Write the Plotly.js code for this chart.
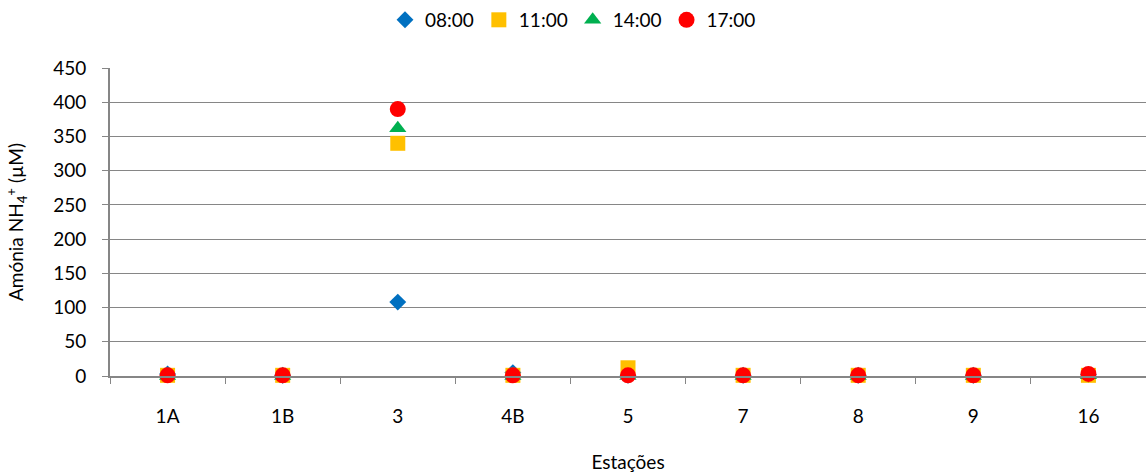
<!DOCTYPE html>
<html>
<head>
<meta charset="utf-8">
<script src="https://cdn.plot.ly/plotly-3.0.1.min.js"></script>
<style>html,body{margin:0;padding:0;background:#fff;}#chart{width:1146px;height:475px;}</style>
</head>
<body>
<div id="chart"></div>
<script>
const stations = ["1A","1B","3","4B","5","7","8","9","16"];
const v0800 = [3, 1, 108, 5, 1, 1, 1, 1, 2];
const v1100 = [1, 1, 340, 1, 12, 1, 1, 1, 1];
const v1400 = [0, 0, 362, 0, 0, 0, 0, 0, 1];
const v1700 = [1, 1, 390, 1, 1, 1, 1, 1, 3];

const seriesNames = ["08:00","11:00","14:00","17:00"];
const seriesData = [v0800, v1100, v1400, v1700];
const colors = ["#0070C0","#FFC000","#00B050","#FF0000"];
const symbols = ["diamond","square","triangle-up","circle"];
const sizes = [13, 15, 15, 16];

const traces = seriesData.map((d,i)=>({
  type:"scatter", mode:"markers", name:seriesNames[i],
  x:stations, y:d, cliponaxis:false,
  marker:{symbol:symbols[i], color:colors[i], size:sizes[i], line:{width:0}}
}));

const font = {family:"Lato, 'Open Sans', sans-serif", size:19, color:"#000"};
const layout = {
  width:1146, height:475,
  margin:{l:110, r:0, t:68, b:99},
  paper_bgcolor:"#fff", plot_bgcolor:"#fff",
  font:font,
  showlegend:true,
  legend:{orientation:"h", x:0.5, xanchor:"center", xref:"container", yref:"container", y:0.958, yanchor:"middle", font:font, itemwidth:20, tracegroupgap:0},
  xaxis:{
    type:"category", tickson:"boundaries", ticks:"outside", ticklen:6, tickcolor:"#868686",
    showline:true, linecolor:"#868686", linewidth:2, showgrid:false, zeroline:false,
    range:[-0.5, 8.5], tickfont:font, automargin:false, ticklabelstandoff:22,
    title:{text:"Estações", font:font, standoff:30}
  },
  yaxis:{
    range:[0,450], dtick:50, ticks:"outside", ticklen:6, tickcolor:"#868686",
    showline:true, linecolor:"#868686", linewidth:2, showgrid:true, gridcolor:"#868686", gridwidth:1,
    zeroline:false, tickfont:font, automargin:false, ticklabelstandoff:12,
    title:{text:"Amónia NH<sub>4</sub><sup>+</sup> (µM)", font:font, standoff:24}
  }
};
Plotly.newPlot("chart", traces, layout, {displayModeBar:false, staticPlot:true});
</script>
</body>
</html>
